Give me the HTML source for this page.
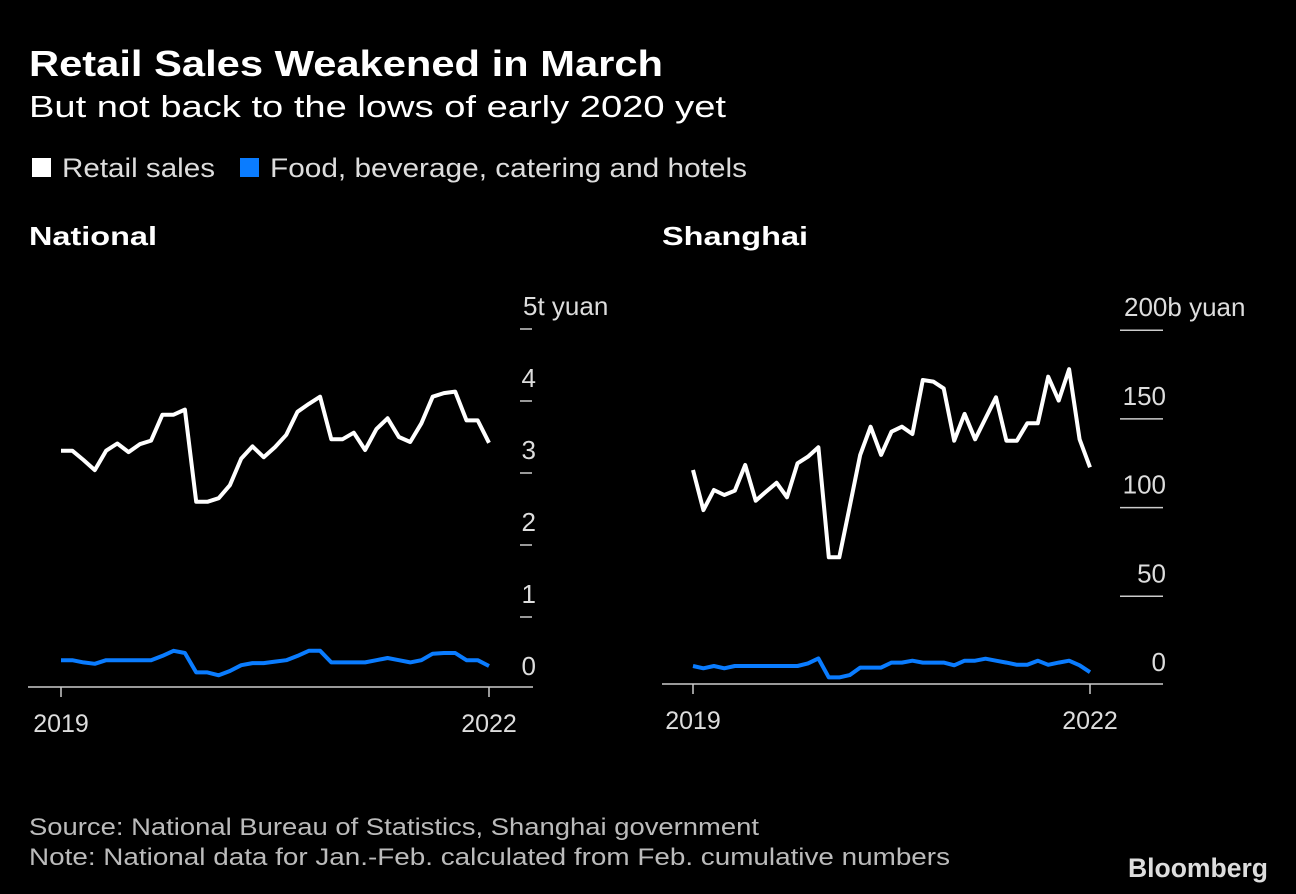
<!DOCTYPE html>
<html><head><meta charset="utf-8"><style>
html,body{margin:0;padding:0;background:#000;}
svg{display:block;font-family:"Liberation Sans",sans-serif;}
</style></head><body>
<svg id="chart" width="1296" height="894" viewBox="0 0 1296 894" xmlns="http://www.w3.org/2000/svg">
<rect width="1296" height="894" fill="#000"/>
<text x="29" y="76" fill="#fff" font-size="36" font-weight="bold" textLength="634" lengthAdjust="spacingAndGlyphs">Retail Sales Weakened in March</text>
<text x="29" y="117" fill="#fff" font-size="31" textLength="697" lengthAdjust="spacingAndGlyphs">But not back to the lows of early 2020 yet</text>
<rect x="32" y="158" width="19" height="19" fill="#fff"/>
<text x="62" y="177" fill="#ddd" font-size="27" textLength="153" lengthAdjust="spacingAndGlyphs">Retail sales</text>
<rect x="240" y="158" width="19" height="19" fill="#0a7cff"/>
<text x="270" y="177" fill="#ddd" font-size="27" textLength="477" lengthAdjust="spacingAndGlyphs">Food, beverage, catering and hotels</text>
<text x="29" y="245" fill="#fff" font-size="26" font-weight="bold" textLength="128" lengthAdjust="spacingAndGlyphs">National</text>
<text x="662" y="245" fill="#fff" font-size="26" font-weight="bold" textLength="146" lengthAdjust="spacingAndGlyphs">Shanghai</text>
<g id="nat"></g>
<g id="sh"></g>
<text x="29" y="835" fill="#bbb" font-size="24" textLength="730" lengthAdjust="spacingAndGlyphs">Source: National Bureau of Statistics, Shanghai government</text>
<text x="29" y="865" fill="#bbb" font-size="24" textLength="921" lengthAdjust="spacingAndGlyphs">Note: National data for Jan.-Feb. calculated from Feb. cumulative numbers</text>
<text x="1128" y="877" fill="#ddd" font-size="27" font-weight="bold" textLength="140" lengthAdjust="spacingAndGlyphs">Bloomberg</text>
</svg>
<script>
const natRetail=[3.31,3.31,3.18,3.04,3.31,3.41,3.29,3.40,3.45,3.81,3.81,3.88,2.60,2.60,2.65,2.83,3.20,3.37,3.22,3.36,3.53,3.85,3.96,4.06,3.47,3.47,3.56,3.32,3.61,3.76,3.50,3.43,3.69,4.06,4.11,4.13,3.73,3.73,3.42];
const natFood=[0.40,0.40,0.37,0.35,0.40,0.40,0.40,0.40,0.40,0.46,0.53,0.50,0.23,0.23,0.19,0.25,0.33,0.36,0.36,0.38,0.40,0.46,0.53,0.53,0.37,0.37,0.37,0.37,0.40,0.43,0.40,0.37,0.40,0.49,0.50,0.50,0.40,0.40,0.32];
const natTicks=[0,1,2,3,4,5];
const natTickLabels=["0","1","2","3","4","5t yuan"];
const shRetail=[121.2,98.6,109.9,107.1,109.5,124.0,103.9,109.0,114.0,105.8,125.0,128.7,134.0,72.0,72.0,100.5,129.7,145.6,129.7,142.8,145.6,141.5,171.9,171.0,167.2,137.7,152.8,138.5,150.3,162.2,137.7,137.7,147.5,147.5,173.8,160.3,178.0,138.5,122.7];
const shFood=[10.7,9.4,10.7,9.4,10.7,10.7,10.7,10.7,10.7,10.7,10.7,12.2,15.0,4.3,4.3,5.6,9.8,9.8,9.8,12.6,12.6,13.7,12.6,12.6,12.6,11.1,13.7,13.7,14.8,13.7,12.6,11.4,11.4,13.7,11.4,12.6,13.7,11.1,7.2];
const shTicks=[0,50,100,150,200];
const shTickLabels=["0","50","100","150","200b yuan"];
const xTickLabels=["2019","2022"];
const NS="http://www.w3.org/2000/svg";
function mk(parent,tag,attrs){const e=document.createElementNS(NS,tag);for(const k in attrs)e.setAttribute(k,attrs[k]);parent.appendChild(e);return e;}
function panel(g,cfg){
  const x=i=>cfg.x0+(cfg.x1-cfg.x0)*i/(cfg.retail.length-1);
  const y=v=>cfg.zeroY-v*cfg.ppu;
  cfg.ticks.forEach((t,k)=>{
    const ty=y(t);
    if(t!==0){const l=mk(g,'line',{x1:cfg.tx0,x2:cfg.tx1,y1:ty,y2:ty,stroke:'#ccc','stroke-width':1.5});
    
    }
    const last=k===cfg.ticks.length-1;
    const tx=mk(g,'text',{x:last?cfg.unitX:cfg.labelX,y:ty-14,fill:'#ddd','font-size':26,'text-anchor':last?'start':'end'});
    tx.textContent=cfg.labels[k];
    
    
  });
  const ax=mk(g,'line',{x1:cfg.ax0,x2:cfg.ax1,y1:cfg.baseY,y2:cfg.baseY,stroke:'#ccc','stroke-width':1.5});
  
  
  [0,cfg.retail.length-1].forEach((i,k)=>{
    const t=mk(g,'line',{x1:x(i),x2:x(i),y1:cfg.baseY,y2:cfg.baseY+10,stroke:'#ccc','stroke-width':1.5});
    
    
    const lb=mk(g,'text',{x:x(i),y:cfg.baseY+45,fill:'#ddd','font-size':25,'text-anchor':'middle'});
    lb.textContent=xTickLabels[k];
    
    
  });
  [[cfg.food,'#0a7cff','food-line'],[cfg.retail,'#fff','retail-line']].forEach(([d,c,n])=>{
    const p=mk(g,'polyline',{points:d.map((v,i)=>x(i).toFixed(1)+','+y(v).toFixed(1)).join(' '),fill:'none',stroke:c,'stroke-width':4,'stroke-linejoin':'round'});
    
    
  });
}
panel(document.getElementById('nat'),{retail:natRetail,food:natFood,ticks:natTicks,labels:natTickLabels,x0:61,x1:489,zeroY:689,ppu:72,baseY:687,ax0:28,ax1:533,tx0:520,tx1:532,labelX:536,unitX:523});
panel(document.getElementById('sh'),{retail:shRetail,food:shFood,ticks:shTicks,labels:shTickLabels,x0:693,x1:1090,zeroY:685,ppu:1.774,baseY:684,ax0:662,ax1:1163,tx0:1120,tx1:1163,labelX:1166,unitX:1124});
</script>
</body></html>
